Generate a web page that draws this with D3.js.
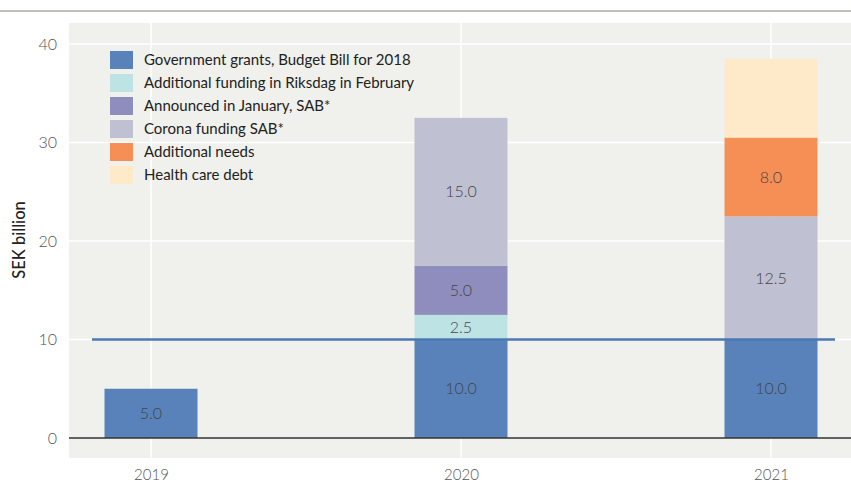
<!DOCTYPE html>
<html>
<head>
<meta charset="utf-8">
<title>SEK billion</title>
<script src="https://cdn.jsdelivr.net/npm/d3@7"></script>
<style>
  body { margin: 0; background: #fff; }
  text { font-family: Lato, "Open Sans", sans-serif; }
</style>
</head>
<body>
<div id="chart"></div>
<script>
// data
var years = ["2019", "2020", "2021"];
var seriesNames = ["Government grants, Budget Bill for 2018", "Additional funding in Riksdag in February",
  "Announced in January, SAB*", "Corona funding SAB*", "Additional needs", "Health care debt"];
var seriesKeys = ["gov", "riksdag", "january", "corona", "needs", "debt"];
var seriesColors = ["#5882b9", "#bde3e4", "#8f8dbd", "#bfc0d1", "#f68f55", "#feeac9"];
var govGrants  = [5.0, 10.0, 10.0];
var riksdag    = [0, 2.5, 0];
var january    = [0, 5.0, 0];
var corona     = [0, 15.0, 12.5];
var needs      = [0, 0, 8.0];
var debt       = [0, 0, 8.0];
var showLabel  = { gov: true, riksdag: true, january: true, corona: true, needs: true, debt: false };
var refLine = 10;
var yTicks = [0, 10, 20, 30, 40];

var W = 851, H = 493;
var rows = years.map(function (y, i) {
  return { year: y, gov: govGrants[i], riksdag: riksdag[i], january: january[i],
           corona: corona[i], needs: needs[i], debt: debt[i] };
});

var svg = d3.select("#chart").append("svg").attr("width", W).attr("height", H);

// top rule
svg.append("line").attr("x1", 0).attr("x2", W).attr("y1", 11).attr("y2", 11)
  .attr("stroke", "#c2beb8").attr("stroke-width", 2);

var plot = { left: 69, right: 851, top: 23, bottom: 458 };
svg.append("rect").attr("x", plot.left).attr("y", plot.top)
  .attr("width", plot.right - plot.left).attr("height", plot.bottom - plot.top)
  .attr("fill", "#f0f0ec");

var x = d3.scalePoint().domain(years).range([151, 771]);
var y = d3.scaleLinear().domain([0, 40]).range([438, 44]);
var barW = 93;

// grid
svg.append("g").selectAll("line.h").data(yTicks.slice(1)).enter().append("line")
  .attr("x1", plot.left).attr("x2", plot.right)
  .attr("y1", function (d) { return y(d); }).attr("y2", function (d) { return y(d); })
  .attr("stroke", "#fff").attr("stroke-width", 1.5);
svg.append("g").selectAll("line.v").data(years).enter().append("line")
  .attr("x1", function (d) { return x(d); }).attr("x2", function (d) { return x(d); })
  .attr("y1", plot.top).attr("y2", plot.bottom)
  .attr("stroke", "#fff").attr("stroke-width", 1.5);

// y axis labels
var yAxis = d3.axisLeft(y).tickValues(yTicks).tickSize(0).tickPadding(0);
var ya = svg.append("g").attr("transform", "translate(57,0)").call(yAxis);
ya.select(".domain").remove();
ya.selectAll("text").attr("font-size", 16).attr("fill", "#555").attr("font-weight", 300)
  .attr("font-family", "Lato, sans-serif");

svg.append("text").attr("transform", "translate(19,240) rotate(-90)")
  .attr("text-anchor", "middle").attr("dy", "0.35em").attr("font-size", 16.5)
  .attr("font-weight", 500).attr("fill", "#222")
  .text("SEK billion");

// x axis labels
var xAxis = d3.axisBottom(x).tickSize(0).tickPadding(0);
var xa = svg.append("g").attr("transform", "translate(0,469)").call(xAxis);
xa.select(".domain").remove();
xa.selectAll("text").attr("font-size", 15).attr("fill", "#555").attr("font-weight", 300)
  .attr("font-family", "Lato, sans-serif");

// stacked bars
var stack = d3.stack().keys(seriesKeys)(rows);
var layers = svg.append("g").selectAll("g").data(stack).enter().append("g")
  .attr("fill", function (d, i) { return seriesColors[i]; });
layers.selectAll("rect").data(function (d) { return d; }).enter()
  .filter(function (d) { return d[1] - d[0] > 0; })
  .append("rect")
  .attr("x", function (d) { return x(d.data.year) - barW / 2; })
  .attr("width", barW)
  .attr("y", function (d) { return y(d[1]); })
  .attr("height", function (d) { return y(d[0]) - y(d[1]); });

layers.each(function (s) {
  if (!showLabel[s.key]) return;
  d3.select(this).selectAll("text").data(s.filter(function (d) { return d[1] - d[0] > 0; }))
    .enter().append("text")
    .attr("x", function (d) { return x(d.data.year); })
    .attr("y", function (d) { return (y(d[0]) + y(d[1])) / 2; })
    .attr("dy", "0.35em").attr("text-anchor", "middle")
    .attr("font-size", 16).attr("fill", "#444").attr("font-weight", 300)
    .text(function (d) { return d3.format(".1f")(d[1] - d[0]); });
});

// zero baseline
svg.append("line").attr("x1", plot.left).attr("x2", plot.right)
  .attr("y1", y(0)).attr("y2", y(0)).attr("stroke", "#333").attr("stroke-width", 1.5);

// reference line
svg.append("line").attr("x1", 92).attr("x2", 835)
  .attr("y1", y(refLine)).attr("y2", y(refLine))
  .attr("stroke", "#4d79b3").attr("stroke-width", 2.5);

// legend
var leg = svg.append("g").attr("transform", "translate(110,51)");
var items = leg.selectAll("g").data(seriesNames).enter().append("g")
  .attr("transform", function (d, i) { return "translate(0," + (i * 23) + ")"; });
items.append("rect").attr("width", 23).attr("height", 18)
  .attr("fill", function (d, i) { return seriesColors[i]; });
items.append("text").attr("x", 34).attr("y", 9).attr("dy", "0.35em")
  .attr("font-size", 15).attr("fill", "#222").text(function (d) { return d; });
</script>
</body>
</html>
